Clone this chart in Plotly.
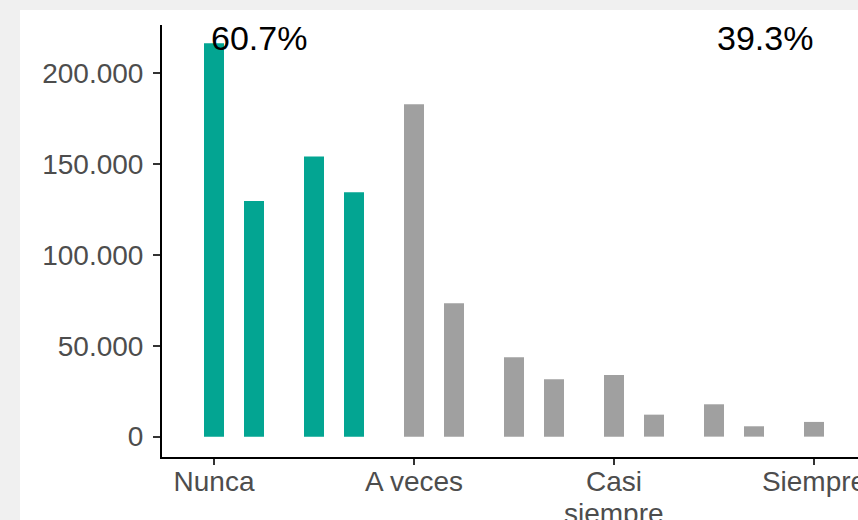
import plotly.graph_objects as go

# bar positions on a numeric axis (pairs per answer group)
positions = [0, 2, 5, 7, 10, 12, 15, 17, 20, 22, 25, 27, 30]
counts = [216400, 129700, 154100, 134500, 182900, 73400, 43700,
          31600, 33900, 12100, 17800, 5700, 8100]
groups = ["a"] * 4 + ["b"] * 9

tick_pos = [0, 10, 20, 30]
tick_labels = ["Nunca", "A veces", "Casi", "Siempre"]
y_ticks = [0, 50000, 100000, 150000, 200000]

pct_labels = ["60.7%", "39.3%"]
pct_x = [2.25, 27.55]
pct_y = [219500, 219500]

colors = {"a": "#03A592", "b": "#A0A0A0"}

fig = go.Figure()
fig.add_trace(go.Bar(
    x=positions, y=counts, width=1,
    marker=dict(color=[colors[g] for g in groups], line=dict(width=0)),
    showlegend=False,
))

for t, x, y in zip(pct_labels, pct_x, pct_y):
    fig.add_annotation(x=x, y=y, text=t, showarrow=False,
                       font=dict(size=34, color="black"))

W, H = 858, 520
ml, mt, mb = 162, 25, 63
pw, ph = W - ml, H - mt - mb
grey = "#F0F0F0"
axis_font = dict(family="Liberation Sans, Arial, sans-serif", size=28, color="#4D4D4D")

# second line of the "Casi siempre" label (tighter line spacing than <br>)
fig.add_annotation(x=20, xref="x", y=-56.5 / ph, yref="paper", yanchor="middle",
                   text="siempre", showarrow=False, font=axis_font)

# light grey frame strips on the left and top edges
fig.add_shape(type="rect", xref="paper", yref="paper", layer="below",
              x0=-ml / pw, x1=(20 - ml) / pw, y0=-mb / ph, y1=1 + mt / ph,
              fillcolor=grey, line=dict(width=0))
fig.add_shape(type="rect", xref="paper", yref="paper", layer="below",
              x0=-ml / pw, x1=1, y0=1 + (mt - 10) / ph, y1=1 + mt / ph,
              fillcolor=grey, line=dict(width=0))

fig.update_layout(
    width=W, height=H,
    margin=dict(l=ml, r=0, t=mt, b=mb, pad=0),
    paper_bgcolor="white", plot_bgcolor="white",
    separators=",.",
    font=dict(family="Liberation Sans, Arial, sans-serif"),
    xaxis=dict(range=[-2.6, 32.2], tickvals=tick_pos, ticktext=tick_labels,
               showline=True, linecolor="black", linewidth=2, automargin=False,
               ticks="outside", ticklen=6, tickwidth=2, tickcolor="#333333",
               ticklabelstandoff=-8, ticklabeloverflow="allow",
               showgrid=False, zeroline=False, tickfont=axis_font),
    yaxis=dict(range=[-11200, 226500], tickvals=y_ticks, tickformat=",d",
               showline=True, linecolor="black", linewidth=2, automargin=False,
               ticks="outside", ticklen=7, tickwidth=2, tickcolor="#333333",
               ticklabelstandoff=4,
               showgrid=False, zeroline=False, tickfont=axis_font),
)

fig.write_html("out.html", config={"displayModeBar": False},
               post_script="document.body.style.margin='0';")
